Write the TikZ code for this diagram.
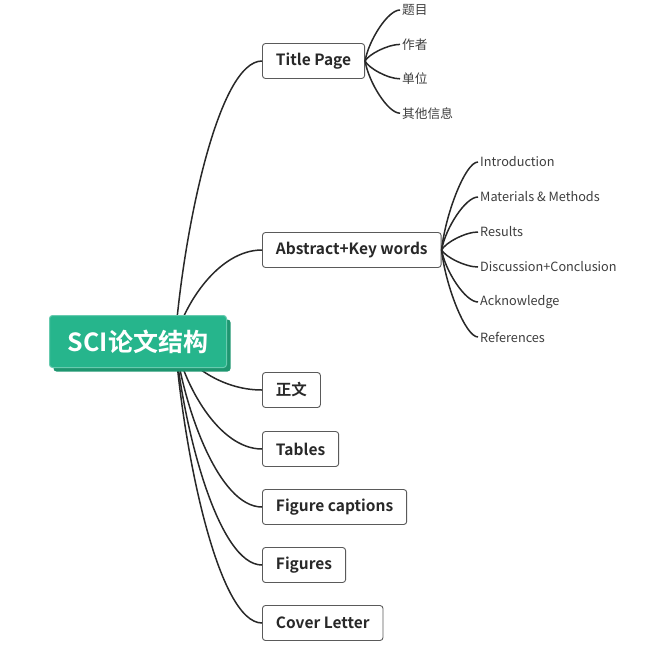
\documentclass[tikz,border=0pt]{standalone}
\usepackage{fontspec}
\setmainfont{Noto Sans CJK SC}[BoldFont={Noto Sans CJK SC Bold}]
\usetikzlibrary{calc,shadows}
\definecolor{mint}{RGB}{38,181,140}
\definecolor{mintdark}{RGB}{30,150,112}
\definecolor{ink}{RGB}{40,40,40}
\definecolor{frame}{RGB}{90,90,90}
\tikzset{
  root/.style={fill=mint,draw=mint!70!white,line width=1pt,rounded corners=3pt,minimum width=177pt,minimum height=52pt,
    text=white,font=\fontsize{25}{28}\selectfont\bfseries,
    drop shadow={shadow xshift=4pt,shadow yshift=-4pt,fill=mintdark,opacity=1}},
  topic/.style={draw=frame,fill=white,line width=0.9pt,rounded corners=3pt,minimum height=35pt,inner xsep=13.5pt,
    text=ink,font=\fontsize{15.5}{17}\selectfont\bfseries,anchor=west},
  leaf/.style={inner xsep=2pt,text=ink!90,font=\fontsize{12.7}{14}\selectfont,anchor=west},
  limb/.style={draw=ink,line width=1.5pt,to path={let \p1=(\tikztostart), \p2=(\tikztotarget) in
    .. controls (\x1+0.1*\x2-0.1*\x1, \y1+0.4*\y2-0.4*\y1) and (\x2-#1*\x2+#1*\x1, \y2) .. (\tikztotarget)}},
  limb/.default=0.5
}
\begin{document}
\begin{tikzpicture}[x=1pt,y=-1pt]
\useasboundingbox (0,0) rectangle (668,656);
\coordinate (hub) at (175,341);
% first level
\foreach \nm/\yy/\txt in {tp/61/Title Page,ab/250/Abstract+Key words,zw/390/正文,tb/449/Tables,fc/507/Figure captions,fg/565/Figures,cl/623/Cover Letter} {
  \node[topic] (\nm) at (262,\yy) {\txt};
  \draw[limb] (hub) to (\nm.west);
}
% leaves of Title Page
\foreach \txt [count=\i] in {题目,作者,单位,其他信息} {
  \node[leaf] (tp\i) at (400,{10+34.4*(\i-1)}) {\txt};
  \draw[limb=0.35] (tp.east) to (tp\i.west);
}
% leaves of Abstract
\foreach \txt [count=\i] in {Introduction,Materials \& Methods,Results,Discussion+Conclusion,Acknowledge,References} {
  \node[leaf] (ab\i) at (478,{162+35*(\i-1)}) {\txt};
  \draw[limb=0.35] (ab.east) to (ab\i.west);
}
\node[root] (sci) at (138,341.5) {SCI论文结构};
\end{tikzpicture}
\end{document}
